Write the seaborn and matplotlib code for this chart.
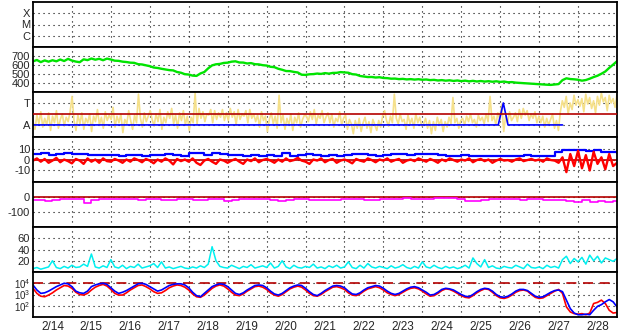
import numpy as np
import matplotlib
matplotlib.use("Agg")
import matplotlib.pyplot as plt
import seaborn as sns

# ---------------- data ----------------
day_labels = ["2/14", "2/15", "2/16", "2/17", "2/18", "2/19", "2/20", "2/21",
              "2/22", "2/23", "2/24", "2/25", "2/26", "2/27", "2/28"]

xmc_labels = ["C", "M", "X"]
ta_labels = ["A", "T"]

green = [640, 656, 632, 651, 637, 653, 641, 661, 644, 668,
         649, 638, 631, 663, 654, 672, 659, 669, 653, 671,
         661, 648, 646, 637, 633, 626, 624, 609, 606, 596,
         587, 572, 567, 558, 551, 543, 540, 522, 514, 498,
         494, 482, 479, 506, 522, 563, 596, 608, 612, 623,
         626, 637, 641, 628, 627, 617, 621, 609, 607, 598,
         594, 580, 576, 558, 547, 533, 532, 523, 517, 492,
         490, 497, 499, 505, 501, 510, 504, 512, 513, 521,
         518, 514, 498, 494, 478, 472, 466, 467, 461, 464,
         456, 454, 448, 449, 443, 446, 440, 443, 438, 442,
         436, 439, 432, 435, 428, 432, 426, 430, 423, 428,
         421, 426, 418, 424, 417, 422, 416, 420, 414, 419,
         412, 416, 408, 410, 404, 401, 398, 396, 392, 389,
         386, 384, 381, 379, 383, 388, 432, 452, 444, 441,
         436, 426, 433, 448, 466, 481, 503, 528, 568, 604,
         642]

yellow = [0.3, -0.4, 0.9, 0.1, 1.2, -0.2, 0.6, 0.0, 1.1, -0.5,
          0.8, 0.2, 1.3, -0.3, 0.5, 1.0, -0.1, 0.7, 0.3, 1.2,
          2.6, 0.4, -0.5, 0.9, 0.1, 1.1, -0.4, 0.6, 0.2, 1.0,
          -0.6, 0.8, 0.3, 1.4, 0.0, 0.7, -0.3, 1.2, 0.4, 0.9,
          0.5, 1.6, -0.2, 0.8, 0.2, 1.0, -0.7, 0.5, 0.1, 1.3,
          0.4, -0.4, 0.9, 0.2, 2.8, 0.6, -0.2, 1.1, 0.3, 0.8,
          1.3, 0.5, -0.1, 1.0, 0.3, 1.4, -0.4, 0.7, 0.2, 1.2,
          0.6, 1.5, 0.1, 0.9, -0.3, 1.1, 0.4, 1.3, 0.0, 0.8,
          -0.5, 0.7, 0.2, 2.9, 0.1, 1.5, 0.6, 1.2, 0.3, 1.0,
          0.9, 1.4, 0.2, 1.3, 0.5, 1.1, 0.7, 1.4, 0.4, 1.1,
          0.4, 1.5, 0.7, 1.2, 0.0, 1.4, 0.5, 1.0, 0.8, 1.3,
          0.2, 1.4, 0.6, 1.0, 0.3, 0.9, -0.2, 1.2, 0.4, 0.8,
          -0.6, 0.5, 1.1, 0.1, 0.8, -0.3, 2.7, 0.2, 0.9, -0.4,
          0.6, 0.0, 1.0, -0.5, 0.7, 0.2, 1.1, -0.2, 0.5, 0.9,
          0.8, 0.3, 1.2, 0.5, 1.4, 0.1, 0.9, 0.6, 1.3, 0.2,
          0.7, 1.1, 0.2, 1.0, -0.2, 0.6, 0.3, 1.2, 0.0, 0.6,
          0.9, -0.4, 0.5, 0.1, -0.8, 0.4, -0.3, 0.6, -0.6, 0.2,
          0.7, -0.3, 0.3, -0.7, 0.5, 0.0, -0.5, 0.4, -0.2, 0.8,
          1.3, 0.4, -0.1, 0.8, 0.2, 2.8, 0.6, 0.1, 1.0, 0.3,
          0.5, -0.4, 0.9, 0.1, 0.6, -0.3, 1.0, 0.2, 0.7, -0.1,
          0.1, 0.6, -0.3, 0.4, -0.8, 0.3, -0.5, 0.7, 0.0, 0.5,
          -0.6, 0.3, -0.2, 0.7, 0.1, 2.5, 0.2, 0.6, -0.3, 0.4,
          0.6, 0.0, 0.8, 0.3, 1.0, 0.2, 0.5, -0.2, 0.9, 0.4,
          0.7, 0.1, 1.0, 0.3, 2.6, 0.4, 0.8, 0.0, 1.1, 0.5,
          1.9, -0.6, 0.8, 0.2, 1.2, 0.4, 0.7, 1.1, 0.3, 1.4,
          0.6, 1.5, 0.9, 1.3, 0.4, 1.0, 0.6, 1.2, 0.2, 0.8,
          0.2, 0.8, -0.2, 0.6, 0.0, 0.5, 1.0, -0.3, 0.4, -0.5,
          1.2, 2.2, 1.6, 2.6, 1.0, 2.0, 1.4, 2.7, 1.8, 2.3,
          1.7, 2.4, 1.2, 2.8, 1.9, 2.5, 1.5, 2.2, 1.1, 2.6,
          1.8, 2.9, 2.1, 2.5, 1.3, 2.7, 2.0, 2.4, 1.6, 2.8]

ta_blue_t = [0.0, 11.95, 12.08, 12.2, 13.6]
ta_blue_v = [0.0, 0.0, 2.0, 0.0, 0.0]
ta_red_level = 1.0

bz_blue = [5, 5.5, 4.5, 5, 5.5, 4.8, 5.2, 4.5, 4, 4.2,
           4, 3.6, 4.5, 4, 3.6, 3.8, 4.5, 5, 4.2, 3.6,
           5.5, 6, 4.5, 5.5, 5, 4.2, 3.8, 3.6, 4, 3.6,
           4.5, 3.6, 5.5, 3.6, 4.5, 5, 4, 3.6, 3.8, 3.6,
           4.5, 4.8, 5, 4.5, 3.6, 4, 5, 5.2, 4.5, 5,
           5, 5.2, 4.5, 3.6, 3.6, 3.8, 3.6, 3.2, 3.6, 3.5,
           3.6, 3.6, 3.6, 3.8, 3.6, 3.2, 3.6, 6.5, 9, 8.5,
           8.8, 8, 8.5, 7, 6.5, 6]

bz_red = [-1, 1, -2, 0.5, -3, -1, 1.5, -2.5, 0, -1.5,
          -3.5, 0.5, -1, -4, 1, -2, 0, -3, 1, -1.5,
          -2, 0.5, -1, -3, 0, -2, 1, -0.5, -2.5, 0.5,
          -1, -3.5, 0, -2, 1, -1, -4.5, 0.5, -1.5, 0,
          -2, 1, -3, -5, -1, 0.5, -2, -4, 0, -1,
          -3, -1, 0.5, -2, -4, 0, -1.5, 1, -2.5, -0.5,
          0.5, -1, -3, 0, -2, 1, -1.5, -0.5, 1.5, -1,
          -2, -4, 0, -1, 1, -2.5, -0.5, 0.5, -3, -1,
          0, -1.5, -3.5, 0.5, -1, -2, 1, -0.5, -2.5, 0,
          -1, 1, -2, -0.5, 0.5, -3, -1, 0, -1.5, 1,
          -0.5, -2, 0.5, -1, -3, 0, -1.5, 1, -0.5, -2,
          0, -1, 1, -2.5, -0.5, 0.5, -1.5, 0, -3, -1,
          0.5, -1, -0.5, -2, 0, 1, -1.5, -0.5, 0.5, -1,
          0, -2, 1, -0.5, -1, -3, 2, -11.5, 5, -6,
          8, -8, 4, -10, 7, -4, 2, -9, 5, -6,
          -3]

magenta = [-20, -22, -24, -18, -12, -10, -14, -40, -18, -15,
           -14, -12, -15, -16, -18, -14, -15, -20, -18, -16,
           -15, -20, -22, -10, -15, -28, -22, -14, -12, -15,
           -16, -18, -25, -20, -16, -14, -18, -20, -22, -18,
           -16, -15, -14, -18, -20, -15, -12, -10, -8, -10,
           -12, -10, -8, -9, -6, -10, -28, -25, -20, -16,
           -14, -12, -15, -18, -14, -16, -20, -22, -18, -25,
           -30, -22, -35, -28, -33, -25]

cyan = [6, 8, 5, 7, 9, 20, 8, 6, 10, 7,
        12, 8, 9, 14, 10, 32, 9, 7, 11, 8,
        22, 9, 7, 12, 6, 10, 8, 14, 7, 9,
        11, 15, 8, 18, 7, 9, 6, 8, 10, 7,
        6, 9, 7, 11, 8, 14, 45, 20, 10, 8,
        7, 12, 9, 6, 10, 8, 13, 7, 9, 11,
        8, 16, 7, 10, 20, 9, 6, 12, 8, 7,
        10, 8, 14, 7, 9, 6, 11, 8, 12, 7,
        9, 18, 8, 6, 12, 7, 15, 9, 7, 10,
        8, 6, 11, 7, 9, 13, 8, 6, 10, 7,
        18, 9, 7, 12, 8, 6, 10, 7, 9, 6,
        8, 12, 7, 25, 15, 9, 22, 8, 11, 7,
        6, 10, 8, 7, 12, 9, 6, 14, 8, 7,
        9, 6, 12, 8, 10, 7, 22, 28, 15, 24,
        18, 26, 14, 30, 20, 28, 16, 25, 22, 19,
        24]

# log10 of the bottom-panel quantities
log_blue = [3.84, 3.4, 3.1, 3.15, 3.3, 3.5, 3.7, 3.85, 4.0, 3.95,
            3.7, 3.3, 3.15, 3.1, 3.3, 3.7, 3.85, 3.95, 4.0, 3.9,
            3.6, 3.3, 3.1, 3.2, 3.35, 3.55, 3.75, 3.95, 4.0, 3.9,
            3.7, 3.5, 3.3, 3.4, 3.6, 3.8, 3.9, 3.95, 3.95, 3.85,
            3.6, 3.2, 2.9, 2.8, 3.1, 3.4, 3.7, 3.85, 3.95, 3.9,
            3.7, 3.4, 3.1, 3.0, 3.15, 3.4, 3.6, 3.8, 3.85, 3.8,
            3.6, 3.3, 3.05, 2.95, 3.1, 3.35, 3.6, 3.75, 3.85, 3.8,
            3.55, 3.25, 3.0, 2.9, 3.1, 3.35, 3.55, 3.75, 3.8, 3.75,
            3.6, 3.3, 3.05, 3.0, 3.15, 3.4, 3.6, 3.7, 3.8, 3.75,
            3.55, 3.3, 3.1, 3.0, 3.1, 3.3, 3.5, 3.65, 3.7, 3.6,
            3.4, 3.2, 2.95, 3.0, 3.2, 3.45, 3.55, 3.5, 3.4, 3.2,
            3.0, 2.85, 2.8, 3.0, 3.25, 3.45, 3.55, 3.5, 3.3, 3.0,
            2.8, 2.75, 2.85, 3.05, 3.3, 3.45, 3.45, 3.35, 3.1, 2.85,
            2.75, 2.8, 3.0, 3.2, 3.35, 3.4, 3.25, 2.5, 1.75, 1.35,
            1.2, 1.2, 1.25, 1.2, 1.6, 1.95, 2.1, 2.35, 2.55, 2.35,
            1.9]

log_red = [3.55, 3.1, 2.85, 2.8, 2.95, 3.15, 3.4, 3.6, 3.8, 3.75,
           3.55, 3.2, 3.0, 2.95, 3.1, 3.4, 3.65, 3.8, 3.9, 3.75,
           3.45, 3.1, 2.95, 2.95, 3.15, 3.4, 3.6, 3.8, 3.85, 3.7,
           3.5, 3.25, 3.1, 3.15, 3.35, 3.6, 3.75, 3.85, 3.8, 3.65,
           3.4, 3.05, 2.8, 2.75, 2.95, 3.25, 3.55, 3.75, 3.85, 3.75,
           3.5, 3.2, 2.95, 2.9, 3.05, 3.3, 3.5, 3.7, 3.75, 3.65,
           3.45, 3.15, 2.95, 2.85, 3.0, 3.25, 3.5, 3.65, 3.75, 3.65,
           3.4, 3.1, 2.9, 2.85, 3.0, 3.25, 3.45, 3.65, 3.7, 3.6,
           3.45, 3.15, 2.95, 2.9, 3.05, 3.3, 3.5, 3.6, 3.7, 3.6,
           3.4, 3.15, 3.0, 2.9, 3.0, 3.2, 3.4, 3.55, 3.6, 3.5,
           3.3, 3.05, 2.85, 2.9, 3.1, 3.35, 3.5, 3.45, 3.3, 3.1,
           2.9, 2.75, 2.7, 2.9, 3.15, 3.35, 3.5, 3.45, 3.2, 2.9,
           2.7, 2.65, 2.75, 2.95, 3.2, 3.35, 3.4, 3.3, 3.0, 2.75,
           2.65, 2.7, 2.9, 3.1, 3.3, 3.45, 3.1, 1.9, 1.45, 1.3,
           1.25, 1.3, 1.2, 1.35, 2.2, 2.3, 2.5, 2.2, 1.6, 1.35,
           1.4]

# ---------------- style ----------------
sns.set_style("white")
plt.rcParams['font.family'] = ['Liberation Sans', 'DejaVu Sans']
plt.rcParams['mathtext.default'] = 'regular'
FS = 8

W, H = 628, 334
fig = plt.figure(figsize=(W / 100, H / 100), dpi=100, facecolor="white")
LEFT, RIGHT, TOP0, PH = 33, 617, 2, 45

axes = []
for i in range(7):
    t = TOP0 + i * PH
    ax = fig.add_axes([LEFT / W, 1 - (t + PH) / H, (RIGHT - LEFT) / W, PH / H])
    axes.append(ax)

grid_kw = dict(color="black", linestyle=(0, (1, 3.5)), linewidth=0.8)
DARKRED = "#b40000"


def series_t(vals):
    return np.linspace(0, 15, len(vals))


def style(ax, ylim, yticks, ylabels, fs=FS):
    ax.set_xlim(0, 15)
    ax.set_ylim(*ylim)
    ax.set_xticks(np.arange(1, 15))
    ax.set_xticklabels([])
    ax.set_yticks(yticks)
    ax.set_yticklabels(ylabels, fontsize=fs)
    ax.tick_params(length=0, pad=2)
    for y in yticks:
        ax.axhline(y, zorder=0.5, **grid_kw)
    for x in np.arange(1, 15):
        ax.axvline(x, zorder=0.5, **grid_kw)
    for s in ax.spines.values():
        s.set_color("black")
        s.set_linewidth(1.3)
    ax.set_xlabel("")
    ax.set_ylabel("")
    if ax.get_legend() is not None:
        ax.get_legend().remove()


# panel 1: X M C (empty)
style(axes[0], (0, 4), [1, 2, 3], xmc_labels)

# panel 2: green
sns.lineplot(x=series_t(green), y=green, ax=axes[1], color="#00e400",
             linewidth=1.7, errorbar=None)
style(axes[1], (300, 800), [400, 500, 600, 700], ["400", "500", "600", "700"])

# panel 3: yellow with red level and blue trace
sns.lineplot(x=series_t(yellow), y=yellow, ax=axes[2], color="#f5e08a",
             linewidth=1.2, errorbar=None)
axes[2].axhline(ta_red_level, color=DARKRED, linewidth=1.2, zorder=3)
sns.lineplot(x=ta_blue_t, y=ta_blue_v, ax=axes[2], color="#0000ff",
             linewidth=1.2, errorbar=None)
style(axes[2], (-1.1, 3.0), [0, 2], ta_labels)

# panel 4: blue / red around 0
axes[3].axhline(0, color=DARKRED, linewidth=1.2, zorder=1)
sns.lineplot(x=series_t(bz_blue), y=bz_blue, ax=axes[3], color="#0000ff",
             linewidth=1.6, errorbar=None, drawstyle="steps-post")
sns.lineplot(x=series_t(bz_red), y=bz_red, ax=axes[3], color="#ff0000",
             linewidth=1.7, errorbar=None)
style(axes[3], (-20.5, 20.5), [-10, 0, 10], ["-10", "0", "10"])

# panel 5: magenta
axes[4].axhline(0, color=DARKRED, linewidth=1.2, zorder=1)
sns.lineplot(x=series_t(magenta), y=magenta, ax=axes[4], color="#ff00ff",
             linewidth=1.2, errorbar=None, drawstyle="steps-mid")
style(axes[4], (-200, 100), [-100, 0], ["-100", "0"])

# panel 6: cyan
sns.lineplot(x=series_t(cyan), y=cyan, ax=axes[5], color="#00f0f0",
             linewidth=1.1, errorbar=None)
style(axes[5], (0, 80), [20, 40, 60], ["20", "40", "60"])

# panel 7: log-scale (decades)
axes[6].axhline(4, color=DARKRED, linewidth=1.2, linestyle=(0, (6, 4)), zorder=1)
sns.lineplot(x=series_t(log_red), y=log_red, ax=axes[6], color="#ff0000",
             linewidth=1.2, errorbar=None)
sns.lineplot(x=series_t(log_blue), y=log_blue, ax=axes[6], color="#0000ff",
             linewidth=1.2, errorbar=None)
style(axes[6], (1, 5), [2, 3, 4], ["$10^2$", "$10^3$", "$10^4$"], fs=7)
axes[6].set_xticks(np.arange(0.5, 15, 1), minor=True)
axes[6].set_xticklabels(day_labels, minor=True, fontsize=FS + 0.5)
axes[6].tick_params(axis="x", which="both", length=0, pad=3)

fig.savefig("out.png", dpi=100, facecolor="white")
